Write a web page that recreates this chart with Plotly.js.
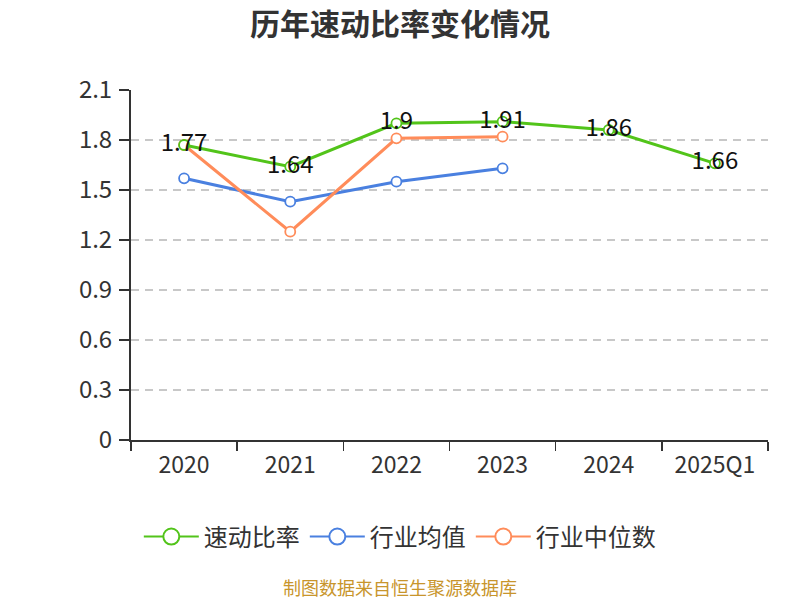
<!DOCTYPE html>
<html><head><meta charset="utf-8">
<script src="https://cdn.plot.ly/plotly-3.0.1.min.js"></script>
<style>body{margin:0;background:#fff}#c{width:800px;height:600px}</style>
</head><body><div id="c"></div>
<script>
const categories = ["2020","2021","2022","2023","2024","2025Q1"];
const quickRatio = [1.77,1.64,1.90,1.91,1.86,1.66];
const quickRatioLabels = ["1.77","1.64","1.9","1.91","1.86","1.66"];
const industryMean = [1.57,1.43,1.55,1.63];
const industryMedian = [1.77,1.25,1.81,1.82];
const seriesNames = ["速动比率","行业均值","行业中位数"];
const colors = ["#52C41A","#4A80E0","#FF8C5A"];
const F = '"Noto Sans CJK SC", "Noto Sans", sans-serif';

const mk = (c,s)=>({size:s,color:'#fff',line:{color:c,width:1.8}});
const traces = [
  {x:categories.slice(0,industryMean.length),y:industryMean,name:seriesNames[1],type:'scatter',mode:'lines+markers',
   line:{color:colors[1],width:3},marker:mk(colors[1],10),showlegend:false},
  {x:categories.slice(0,industryMedian.length),y:industryMedian,name:seriesNames[2],type:'scatter',mode:'lines+markers',
   line:{color:colors[2],width:3},marker:mk(colors[2],10),showlegend:false},
  {x:categories,y:quickRatio,name:seriesNames[0],type:'scatter',mode:'lines+markers+text',
   text:quickRatioLabels,textposition:'middle center',textfont:{family:F,size:24,color:'#111'},
   line:{color:colors[0],width:3},marker:mk(colors[0],10),showlegend:false}
];
// legend-only entries
seriesNames.forEach((n,i)=>{
  traces.push({x:[null],y:[null],name:n,type:'scatter',mode:'lines+markers',
    line:{color:colors[i],width:2},marker:{size:16,color:'#fff',line:{color:colors[i],width:2}},showlegend:true});
});
const layout = {
  width:800,height:600,
  margin:{l:131,r:32,t:90,b:160},
  paper_bgcolor:'#fff',plot_bgcolor:'#fff',
  font:{family:F,color:'#333'},
  title:{text:'<b>历年速动比率变化情况</b>',x:0.5,xanchor:'center',y:0.96,yanchor:'middle',font:{family:F,size:30,color:'#333'}},
  xaxis:{type:'category',range:[-0.5,5.5],tickson:'boundaries',ticks:'outside',ticklen:9,tickwidth:1.5,tickcolor:'#333',
    showline:true,linecolor:'#333',linewidth:2,showgrid:false,tickfont:{family:F,size:23,color:'#333'},
    ticklabelstandoff:3,fixedrange:true},
  yaxis:{range:[0,2.1],dtick:0.3,tick0:0,ticks:'outside',ticklen:10,tickwidth:1.5,tickcolor:'#333',showline:true,linecolor:'#333',linewidth:2,
    gridcolor:'#c8c8c8',griddash:'8px,6px',gridwidth:1.3,zeroline:false,tickfont:{family:F,size:24,color:'#333'},
    ticklabelstandoff:2,fixedrange:true},
  legend:{orientation:'h',x:0.422,xanchor:'center',y:-0.277,yanchor:'middle',font:{family:F,size:24,color:'#333'},
    traceorder:'normal',itemwidth:55},
  showlegend:true,
  annotations:[{text:'制图数据来自恒生聚源数据库',xref:'paper',yref:'paper',x:0.422,y:-0.42,xanchor:'center',yanchor:'middle',
    showarrow:false,font:{family:F,size:18,color:'#C8952C'}}]
};
Plotly.newPlot('c',traces,layout,{displayModeBar:false,staticPlot:true});
</script></body></html>
